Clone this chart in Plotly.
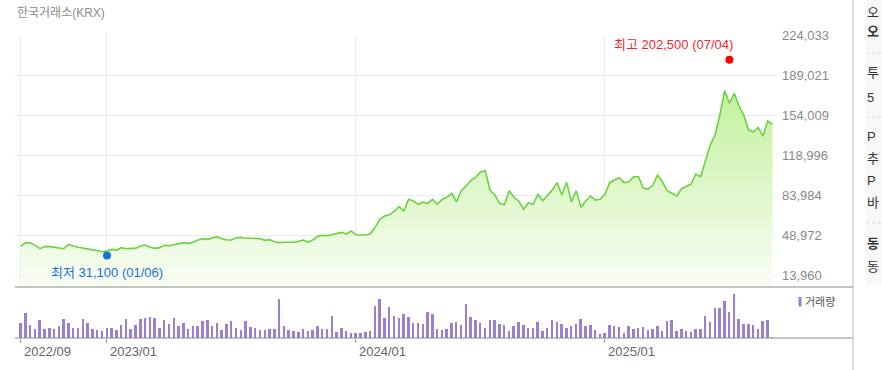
import plotly.graph_objects as go
import pandas as pd

# ---------------- data ----------------
dates = pd.date_range("2022-09-02", periods=158, freq="7D")

prices = [
    39300, 42300, 42000, 39900, 37000, 38800, 38800, 38200, 37600, 37000,
    40800, 39100, 38200, 37600, 36700, 36100, 35300, 34400, 35000, 36400,
    35800, 37900, 37000, 37300, 37300, 39300, 40200, 38200, 37300, 37900,
    39900, 39600, 40500, 41400, 42300, 41700, 42600, 44600, 45800, 45200,
    46300, 47500, 45800, 44600, 44600, 46600, 46900, 46100, 46100, 46100,
    45800, 44300, 44900, 42800, 42300, 42600, 42600, 42600, 43400, 44600,
    42800, 44600, 47800, 48700, 48400, 49300, 49800, 51300, 49800, 52500,
    49000, 48700, 49000, 50100, 55700, 62700, 65600, 66800, 69700, 73800,
    70000, 80200, 78700, 75800, 77900, 76700, 80200, 76100, 80200, 82000,
    85500, 78100, 87700, 91900, 96900, 99500, 104100, 105300, 88400, 84000,
    76700, 75500, 87700, 82000, 78700, 71500, 77000, 75800, 84600, 79000,
    84000, 88400, 94800, 84000, 95100, 77900, 87700, 73200, 78700, 83100,
    79600, 80200, 84600, 94800, 97100, 99100, 94800, 95600, 100000, 100000,
    90100, 89200, 92500, 101500, 95600, 87700, 85500, 83100, 89500, 91300,
    93600, 102400, 100000, 114200, 127800, 136500, 154000, 175300, 164300, 173000,
    161900, 154000, 140900, 139400, 143200, 135600, 148800, 145900,
]

volumes = [
    1530, 2530, 1300, 930, 1800, 930, 1030, 930, 1200, 1900,
    1530, 1030, 1030, 1900, 1530, 930, 830, 700, 1030, 1030,
    830, 1300, 1900, 930, 1300, 1900, 2030, 2130, 2030, 1030,
    1800, 1430, 2030, 1200, 1530, 930, 1200, 1200, 1700, 1770,
    1200, 1530, 830, 1430, 1670, 1030, 830, 1670, 1100, 1030,
    830, 830, 930, 930, 3930, 1200, 830, 700, 580, 900,
    670, 800, 1170, 900, 900, 2230, 570, 1030, 670, 470,
    470, 470, 570, 670, 3200, 3900, 2000, 3100, 2230, 2000,
    2370, 2130, 1530, 1530, 1400, 2600, 2370, 900, 800, 900,
    1530, 1630, 1300, 3430, 2130, 1770, 1530, 1030, 1770, 1770,
    1400, 1300, 670, 1170, 1630, 1300, 1030, 1030, 1630, 670,
    1030, 1770, 1630, 1400, 1030, 1170, 1400, 1870, 1200, 1330,
    830, 430, 500, 1330, 1200, 1070, 500, 1200, 930, 1000,
    1070, 770, 930, 1200, 700, 1670, 1830, 700, 930, 700,
    600, 930, 930, 2170, 1570, 3000, 3000, 3700, 2600, 4370,
    1930, 1430, 1430, 1330, 930, 1670, 1800, 100,
]

y_ticks = [13960, 48972, 83984, 118996, 154009, 189021, 224033]
y_tick_text = ["13,960", "48,972", "83,984", "118,996", "154,009", "189,021", "224,033"]
x_tick_dates = ["2022-09-02", "2023-01-06", "2024-01-05", "2025-01-03"]
x_tick_labels = ["2022/09", "2023/01", "2024/01", "2025/01"]

high_date, high_value, high_label = "2025-07-04", 202500, "최고 202,500 (07/04)"
low_date, low_value, low_label = "2023-01-06", 31100, "최저 31,100 (01/06)"

title_text = "한국거래소(KRX)"
volume_name = "거래량"
side_texts = ["오", "오", "투", "5", "P", "추", "P", "바", "동", "동"]
side_bold = [False, True, False, False, False, False, False, False, True, False]

# ---------------- layout geometry (pixels) ----------------
W, H = 882, 370
L, R, T, B = 15, 777, 35, 338
SPLIT = 287


def px_x(p):
    return (p - L) / (R - L)


def px_y(p):
    return (B - p) / (B - T)


NUM_FONT = "Liberation Sans, Arial, Noto Sans CJK KR, sans-serif"
KR_FONT = "Liberation Sans, Noto Sans CJK KR, sans-serif"

LINE_GREEN = "#6cd23e"
VOL_PURPLE = "#9a80cf"

fig = go.Figure()

# price area
fig.add_trace(go.Scatter(
    x=dates, y=prices, mode="lines",
    line=dict(color=LINE_GREEN, width=1.6),
    fill="tozeroy",
    fillgradient=dict(
        type="vertical",
        start=13960, stop=180000,
        colorscale=[[0, "rgba(246,253,240,1)"], [1, "rgba(194,240,156,1)"]],
    ),
    hoverinfo="skip", showlegend=False, xaxis="x", yaxis="y",
))

# high / low markers
fig.add_trace(go.Scatter(
    x=[pd.Timestamp(high_date)], y=[high_value], mode="markers",
    marker=dict(color="#ff0000", size=8), showlegend=False, hoverinfo="skip",
    xaxis="x", yaxis="y", cliponaxis=False,
))
fig.add_trace(go.Scatter(
    x=[pd.Timestamp(low_date)], y=[low_value], mode="markers",
    marker=dict(color="#1a6fe0", size=8), showlegend=False, hoverinfo="skip",
    xaxis="x", yaxis="y", cliponaxis=False,
))

# volume bars
fig.add_trace(go.Bar(
    x=dates, y=volumes, marker=dict(color=VOL_PURPLE, line=dict(width=0)),
    width=2.9 * 86400000, showlegend=False, hoverinfo="skip",
    xaxis="x2", yaxis="y2",
))

x_range = ["2022-08-24 12:00", "2025-09-11 14:00"]
split_frac = px_y(SPLIT)

fig.update_layout(
    width=W, height=H,
    margin=dict(l=L, r=W - R, t=T, b=H - B, pad=0),
    paper_bgcolor="white", plot_bgcolor="white",
    bargap=0,
    xaxis=dict(
        domain=[0, 1], anchor="y", range=x_range, type="date",
        tickvals=x_tick_dates, showticklabels=False, ticks="",
        showgrid=True, gridcolor="#ececec", gridwidth=1,
        zeroline=False, showline=False,
    ),
    yaxis=dict(
        domain=[split_frac, 1], anchor="x", side="right",
        range=[3457, 224100],
        tickvals=y_ticks, ticktext=y_tick_text,
        showgrid=True, gridcolor="#ececec", gridwidth=1,
        zeroline=False, showline=False, ticks="",
        tickfont=dict(family=NUM_FONT, size=13, color="#8a8a8a"),
        ticklabelstandoff=4,
    ),
    xaxis2=dict(
        domain=[0, 1], anchor="y2", range=x_range, type="date", matches="x",
        tickvals=x_tick_dates, showticklabels=False,
        ticks="outside", ticklen=4, tickcolor="#999999", tickwidth=1,
        showgrid=False, zeroline=False, showline=False,
    ),
    yaxis2=dict(
        domain=[0, split_frac], anchor="x2", range=[0, 5100],
        showgrid=False, showticklabels=False, zeroline=False, showline=False,
        ticks="",
    ),
)

shapes = []
# panel separators
for yy in (SPLIT, B):
    shapes.append(dict(type="line", xref="paper", yref="paper",
                       x0=px_x(15), x1=px_x(853), y0=px_y(yy), y1=px_y(yy),
                       line=dict(color="#8c8c8c", width=1)))
# right side panel
shapes.append(dict(type="rect", xref="paper", yref="paper",
                   x0=px_x(866), x1=px_x(882), y0=px_y(285), y1=px_y(0),
                   fillcolor="#f8f8f8", line=dict(width=0), layer="below"))
shapes.append(dict(type="line", xref="paper", yref="paper",
                   x0=px_x(853), x1=px_x(853), y0=px_y(0), y1=px_y(370),
                   line=dict(color="#bdbdbd", width=1)))
for yy in (53, 117, 223):
    shapes.append(dict(type="line", xref="paper", yref="paper",
                       x0=px_x(866), x1=px_x(882), y0=px_y(yy), y1=px_y(yy),
                       line=dict(color="#d6d6d6", width=1, dash="dot")))
# volume legend swatch
shapes.append(dict(type="rect", xref="paper", yref="paper",
                   x0=px_x(798.5), x1=px_x(801.5), y0=px_y(306.5), y1=px_y(297),
                   fillcolor=VOL_PURPLE, line=dict(width=0)))
fig.update_layout(shapes=shapes)

ann = []
ann.append(dict(text=title_text, xref="paper", yref="paper", x=px_x(15), y=px_y(13),
                xanchor="left", yanchor="middle", showarrow=False,
                font=dict(family=KR_FONT, size=12, color="#8c8c8c")))
ann.append(dict(text=volume_name, xref="paper", yref="paper", x=px_x(803), y=px_y(302),
                xanchor="left", yanchor="middle", showarrow=False,
                font=dict(family=KR_FONT, size=11, color="#555555")))
for d, lab in zip(x_tick_dates, x_tick_labels):
    ann.append(dict(text=lab, xref="x2", yref="paper", x=d, y=px_y(352),
                    xanchor="left", yanchor="middle", showarrow=False, xshift=1,
                    font=dict(family=NUM_FONT, size=13, color="#666666")))
ann.append(dict(text=high_label, xref="x", yref="y", x=high_date, y=high_value,
                xanchor="right", yanchor="middle", showarrow=False,
                xshift=6, yshift=15,
                font=dict(family=KR_FONT, size=13, color="#f0282d")))
ann.append(dict(text=low_label, xref="x", yref="y", x=low_date, y=low_value,
                xanchor="center", yanchor="middle", showarrow=False,
                xshift=0, yshift=-17,
                font=dict(family=KR_FONT, size=13, color="#1a6fe0")))
side_y = [12, 32, 73, 98, 136, 158, 180, 202, 243, 266]
for txt, yy, bold in zip(side_texts, side_y, side_bold):
    ann.append(dict(text=f"<b>{txt}</b>" if bold else txt, xref="paper", yref="paper",
                    x=px_x(865), y=px_y(yy), xanchor="left", yanchor="middle",
                    showarrow=False,
                    font=dict(family=KR_FONT, size=13, color="#333333")))
fig.update_layout(annotations=ann)

fig.write_html(
    "out.html",
    config={"displayModeBar": False},
    post_script="document.body.style.margin='0';document.body.style.overflow='hidden';",
)
